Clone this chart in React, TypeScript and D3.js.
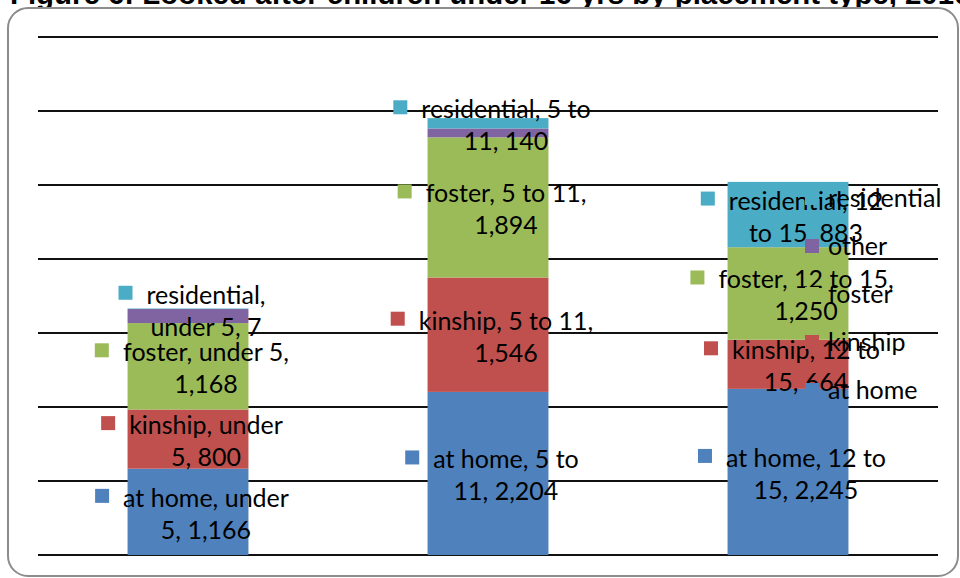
import React from "react";
import * as d3 from "d3";

const title = "Figure 6: Looked after children under 16 yrs by placement type, 2010";
const categories = ["under 5", "5 to 11", "12 to 15"];
// stack order, bottom to top
const seriesNames = ["at home", "kinship", "foster", "other", "residential"];
const atHome = [1166, 2204, 2245];
const kinship = [800, 1546, 664];
const foster = [1168, 1894, 1250];
const other = [190, 120, 0];
const residential = [7, 140, 883];
const seriesColors = ["#4F81BD", "#C0504D", "#9BBB59", "#8064A2", "#4BACC6"];
const yTicks = [0, 1000, 2000, 3000, 4000, 5000, 6000, 7000];
// series that got data labels in the original
const labelled = ["at home", "kinship", "foster", "residential"];
// legend is listed top to bottom
const legendOrder = ["residential", "other", "foster", "kinship", "at home"];

const W = 960;
const H = 578;
const FONT = "Lato, 'Open Sans', sans-serif";
const FS = 25;

let ctx: CanvasRenderingContext2D | null = null;
function measure(s: string) {
  if (!ctx) ctx = document.createElement("canvas").getContext("2d");
  ctx!.font = `${FS}px Lato`;
  return ctx!.measureText(s).width;
}

// greedy word wrap, like excel does for data labels
function wrap(s: string, maxW: number) {
  const words = s.split(" ");
  const lines: string[] = [];
  let cur = "";
  words.forEach((w) => {
    const t = cur ? cur + " " + w : w;
    if (cur && measure(t) > maxW) {
      lines.push(cur);
      cur = w;
    } else cur = t;
  });
  if (cur) lines.push(cur);
  return lines;
}

export default function App() {
  const values = [atHome, kinship, foster, other, residential];
  const rows = categories.map((c, i) => {
    const r: any = { cat: c };
    seriesNames.forEach((s, j) => (r[s] = values[j][i]));
    return r;
  });
  const stacked = d3.stack().keys(seriesNames)(rows);

  const x = d3
    .scaleBand()
    .domain(categories)
    .range([38, 938])
    .paddingInner(0.597)
    .paddingOuter(0.2985);
  const y = d3.scaleLinear().domain([0, 7000]).range([555, 37]);
  const color = d3.scaleOrdinal<string>().domain(seriesNames).range(seriesColors);
  const fmt = d3.format(",");

  const labels: any[] = [];
  stacked.forEach((layer) => {
    if (labelled.indexOf(layer.key) < 0) return;
    layer.forEach((d, i) => {
      const cat = categories[i];
      const cx = x(cat)! + x.bandwidth() / 2 + 18;
      const cy = (y(d[0]) + y(d[1])) / 2;
      const text = `${layer.key}, ${cat}, ${fmt(d[1] - d[0])}`;
      labels.push({ key: layer.key + i, series: layer.key, cx, cy, lines: wrap(text, 176) });
    });
  });

  return (
    <svg
      width={W}
      height={H}
      style={{ position: "absolute", left: 0, top: 0, display: "block", background: "#fff" }}
    >
      <text
        x={10}
        y={4}
        fontFamily="'Liberation Sans', Arial, sans-serif"
        fontWeight="bold"
        fontSize={29.4}
        fill="#000"
      >
        {title}
      </text>
      <rect x={8} y={8} width={950} height={568} rx={20} ry={20} fill="#fff" stroke="#8c8c8c" strokeWidth={2} />

      {yTicks.map((t) => (
        <line key={t} x1={38} x2={938} y1={y(t)} y2={y(t)} stroke="#111" strokeWidth={2} />
      ))}

      {stacked.map((layer) => (
        <g key={layer.key} fill={color(layer.key)}>
          {layer.map((d, i) => (
            <rect
              key={i}
              x={x(categories[i])}
              y={y(d[1])}
              width={x.bandwidth()}
              height={Math.max(0, y(d[0]) - y(d[1]))}
            />
          ))}
        </g>
      ))}

      <g fontFamily={FONT} fontSize={FS} fill="#000">
        {labels.map((l) => {
          const w0 = measure(l.lines[0]);
          const b0 = l.cy - 5;
          return (
            <g key={l.key}>
              <rect x={l.cx - w0 / 2 - 28} y={b0 - 18} width={14} height={14} fill={color(l.series)} />
              {l.lines.map((s: string, k: number) => (
                <text key={k} x={l.cx} y={b0 + k * 32} textAnchor="middle">
                  {s}
                </text>
              ))}
            </g>
          );
        })}
      </g>

      <g fontFamily={FONT} fontSize={FS} fill="#000">
        {legendOrder.map((s, i) => {
          const b = 207 + i * 48;
          return (
            <g key={s}>
              <rect x={805} y={b - 16} width={14} height={14} fill={color(s)} />
              <text x={828} y={b}>
                {s}
              </text>
            </g>
          );
        })}
      </g>
    </svg>
  );
}
